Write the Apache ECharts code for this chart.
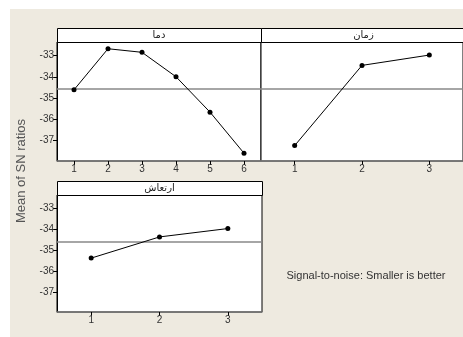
<!DOCTYPE html>
<html><head><meta charset="utf-8">
<script src="https://cdn.jsdelivr.net/npm/echarts@6/dist/echarts.min.js"></script>
<style>html,body{margin:0;padding:0;background:#fff}#c{width:463px;height:337px}</style>
</head><body><div id="c"></div>
<script>
const panelTitles = ['دما', 'زمان', 'ارتعاش'];
const levels1 = [1, 2, 3, 4, 5, 6];
const values1 = [-34.62, -32.67, -32.84, -34.0, -35.68, -37.63];
const levels2 = [1, 2, 3];
const values2 = [-37.27, -33.46, -32.97];
const levels3 = [1, 2, 3];
const values3 = [-35.38, -34.37, -33.97];
const meanSN = -34.58;
const yTicks = [-37, -36, -35, -34, -33];
const yAxisTitle = 'Mean of SN ratios';
const note = 'Signal-to-noise: Smaller is better';

const labelFont = {fontFamily: 'Liberation Sans, Arial', fontSize: 10, color: '#333'};
const pairs = (xs, ys) => xs.map((x, i) => [x, ys[i]]);

const grids = [
  {left: 57, top: 42, width: 204, height: 119},
  {left: 261, top: 42, width: 205, height: 119},
  {left: 57, top: 195, width: 205, height: 117}
];
const yRanges = [[-38, -32.35], [-38, -32.35], [-37.95, -32.37]];
const xRanges = [[0.5, 6.5], [0.5, 3.5], [0.5, 3.5]];
const xTicks = [levels1, levels2, levels3];
const seriesData = [pairs(levels1, values1), pairs(levels2, values2), pairs(levels3, values3)];

const chart = echarts.init(document.getElementById('c'), null, {renderer: 'canvas'});

const option = {
  backgroundColor: '#fff',
  animation: false,
  grid: grids.map(g => Object.assign({show: true, backgroundColor: '#fff', borderColor: '#000', borderWidth: 1}, g)),
  xAxis: grids.map((g, i) => ({
    type: 'value', gridIndex: i, min: xRanges[i][0], max: xRanges[i][1],
    splitLine: {show: false},
    axisLine: {show: true, onZero: false, lineStyle: {color: '#777', width: 1.5}},
    axisTick: {show: true, length: 4, customValues: xTicks[i], lineStyle: {color: '#000'}},
    axisLabel: Object.assign({show: true, margin: 3, customValues: xTicks[i]}, labelFont)
  })),
  yAxis: grids.map((g, i) => ({
    type: 'value', gridIndex: i, min: yRanges[i][0], max: yRanges[i][1],
    splitLine: {show: false},
    axisLine: {show: i !== 1, lineStyle: {color: '#000'}},
    axisTick: {show: i !== 1, length: 4, customValues: yTicks, lineStyle: {color: '#000'}},
    axisLabel: Object.assign({show: i !== 1, margin: 3, customValues: yTicks}, labelFont)
  })),
  series: seriesData.map((d, i) => ({
    type: 'line', xAxisIndex: i, yAxisIndex: i, data: d,
    symbol: 'circle', symbolSize: 5,
    lineStyle: {color: '#000', width: 1},
    itemStyle: {color: '#000'},
    markLine: {
      silent: true, symbol: 'none', label: {show: false},
      lineStyle: {color: '#888', width: 1.5, type: 'solid'},
      data: [{yAxis: meanSN}]
    },
    z: 5
  })),
  graphic: [
    {type: 'rect', z: -10, silent: true, shape: {x: 10, y: 9, width: 453, height: 328}, style: {fill: '#EEEAE0'}},
    ...grids.map((g, i) => ({
      type: 'rect', z: 10, silent: true,
      shape: {x: g.left + 0.5, y: g.top - 14 + 0.5, width: g.width, height: 14},
      style: {fill: '#fff', stroke: '#000', lineWidth: 1}
    })),
    ...grids.map((g, i) => ({
      type: 'text', z: 11, silent: true,
      x: g.left + g.width / 2, y: g.top - 7,
      style: {text: panelTitles[i], fontFamily: 'DejaVu Sans', fontSize: 10, fill: '#222', align: 'center', verticalAlign: 'middle'}
    })),
    {type: 'text', z: 11, silent: true, x: 21, y: 171, rotation: Math.PI / 2,
      style: {text: yAxisTitle, fontFamily: 'Liberation Sans, Arial', fontSize: 13, fill: '#555', align: 'center', verticalAlign: 'middle'}},
    {type: 'text', z: 11, silent: true, x: 366, y: 276,
      style: {text: note, fontFamily: 'Liberation Sans, Arial', fontSize: 11, fill: '#333', align: 'center', verticalAlign: 'middle'}}
  ]
};
chart.setOption(option);
</script></body></html>
